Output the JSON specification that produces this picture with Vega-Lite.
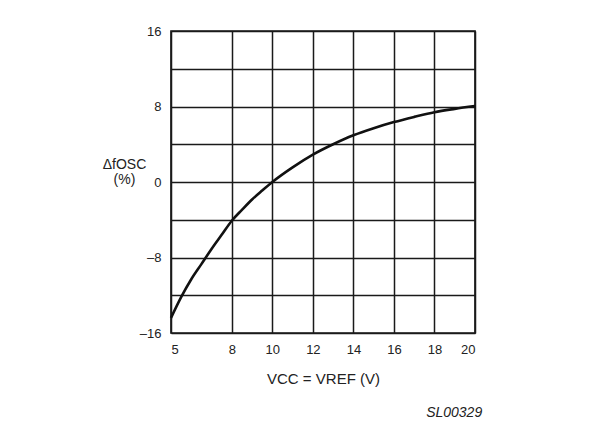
{
  "$schema": "https://vega.github.io/schema/vega-lite/v6.json",
  "autosize": {"type": "none"},
  "width": 304,
  "height": 302,
  "padding": {"left": 171, "top": 31, "right": 136, "bottom": 95},
  "background": "white",
  "title": {
    "text": "SL00329",
    "orient": "bottom",
    "anchor": "end",
    "font": "Liberation Sans",
    "fontSize": 14,
    "fontStyle": "italic",
    "fontWeight": "normal",
    "color": "#222",
    "dx": 2,
    "offset": 20
  },
  "data": {
    "values": [
      {"v": 5.0, "df": -14.4},
      {"v": 5.5, "df": -12.2},
      {"v": 6.0, "df": -10.3},
      {"v": 6.5, "df": -8.7},
      {"v": 7.0, "df": -7.1},
      {"v": 7.5, "df": -5.6},
      {"v": 8.0, "df": -4.1},
      {"v": 8.5, "df": -2.95},
      {"v": 9.0, "df": -1.85},
      {"v": 9.5, "df": -0.9},
      {"v": 10.0, "df": 0.0},
      {"v": 11.0, "df": 1.55},
      {"v": 12.0, "df": 2.9},
      {"v": 13.0, "df": 4.0},
      {"v": 14.0, "df": 4.95},
      {"v": 15.0, "df": 5.7},
      {"v": 16.0, "df": 6.35},
      {"v": 17.0, "df": 6.9},
      {"v": 18.0, "df": 7.4},
      {"v": 19.0, "df": 7.75},
      {"v": 20.0, "df": 8.05}
    ]
  },
  "mark": {"type": "line", "interpolate": "monotone", "color": "#111", "strokeWidth": 2.6},
  "encoding": {
    "x": {
      "field": "v",
      "type": "quantitative",
      "scale": {"domain": [5, 20], "nice": false, "zero": false},
      "axis": {
        "values": [5, 8, 10, 12, 14, 16, 18, 20],
        "title": "VCC = VREF (V)",
        "grid": true,
        "gridColor": "#1a1a1a",
        "gridWidth": 1.5,
        "gridOpacity": 1,
        "domain": false,
        "ticks": false,
        "labelPadding": 10,
        "labelFont": "Liberation Sans",
        "labelFontSize": 13,
        "labelColor": "#222",
        "titleFont": "Liberation Sans",
        "titleFontSize": 15,
        "titleFontWeight": "normal",
        "titleColor": "#222",
        "titlePadding": 15
      }
    },
    "y": {
      "field": "df",
      "type": "quantitative",
      "scale": {"domain": [-16, 16], "nice": false, "zero": false},
      "axis": {
        "values": [-16, -12, -8, -4, 0, 4, 8, 12, 16],
        "labelExpr": "datum.value % 8 == 0 ? replace(format(datum.value, 'd'), '−', '–') : ''",
        "title": ["ΔfOSC", "(%)"],
        "titleAngle": 0,
        "titleAlign": "center",
        "titleBaseline": "alphabetic",
        "titleX": -47,
        "titleY": 137,
        "titleLineHeight": 15,
        "grid": true,
        "gridColor": "#1a1a1a",
        "gridWidth": 1.5,
        "gridOpacity": 1,
        "domain": false,
        "ticks": false,
        "labelPadding": 10,
        "labelFont": "Liberation Sans",
        "labelFontSize": 13,
        "labelColor": "#222",
        "titleFont": "Liberation Sans",
        "titleFontSize": 14,
        "titleFontWeight": "normal",
        "titleColor": "#222"
      }
    }
  },
  "config": {
    "view": {"stroke": "#1a1a1a", "strokeWidth": 1.7}
  }
}
